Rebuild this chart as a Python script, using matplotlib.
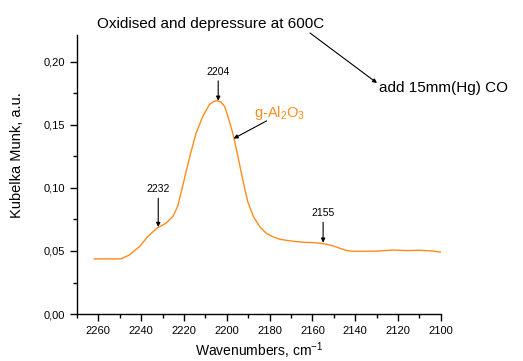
import matplotlib
matplotlib.use("Agg")
import matplotlib.pyplot as plt
import matplotlib.ticker as mt

plt.rcParams['font.family'] = ['Liberation Sans', 'DejaVu Sans']
plt.rcParams['mathtext.default'] = 'regular'

# spectrum
wavenumber = [2262, 2255, 2249.4, 2245.5, 2240.8, 2236.9, 2232.6, 2228.4, 2225.2,
              2222.9, 2220.8, 2217.4, 2214.3, 2211.2, 2208.1, 2206.2, 2204.5, 2202.8,
              2201.0, 2199.5, 2197.2, 2194.8, 2192.5, 2190.2, 2187.5, 2184.5, 2181.6,
              2178.5, 2175.3, 2171.5, 2167.6, 2163.5, 2159.7, 2156.6, 2153.5, 2150.4,
              2147, 2144, 2141, 2135, 2128.5, 2122.3, 2116, 2109.8, 2104, 2099.7]
kubelka = [0.0437, 0.0437, 0.0437, 0.0468, 0.0534, 0.0614, 0.068, 0.072, 0.0772,
           0.0855, 0.100, 0.124, 0.1434, 0.1566, 0.1659, 0.1683, 0.169, 0.168,
           0.1645, 0.1566, 0.1434, 0.125, 0.106, 0.089, 0.077, 0.069, 0.064,
           0.0612, 0.0593, 0.0582, 0.0574, 0.0568, 0.0566, 0.0561, 0.0553, 0.054,
           0.052, 0.0503, 0.0497, 0.0497, 0.050, 0.0507, 0.0503, 0.0505, 0.0500, 0.049]

peaks = [2204, 2232, 2155]
peak_y = [0.1685, 0.0685, 0.0561]
label_y = [0.188, 0.095, 0.076]


def graph():
    fig = plt.figure(figsize=(5.23, 3.61), dpi=100)
    ax = fig.add_axes([0.147, 0.130, 0.696, 0.773])

    ax.plot(wavenumber, kubelka, color='#ff8c1a', lw=1.0,
            solid_joinstyle='round', solid_capstyle='round')

    ax.set_xlim(2270, 2100)
    ax.set_ylim(0, 0.221)
    ax.xaxis.set_major_locator(mt.MultipleLocator(20))
    ax.xaxis.set_minor_locator(mt.MultipleLocator(10))
    ax.yaxis.set_major_locator(mt.MultipleLocator(0.05))
    ax.yaxis.set_minor_locator(mt.MultipleLocator(0.025))
    ax.yaxis.set_major_formatter(mt.FuncFormatter(lambda v, p: ('%.2f' % v).replace('.', ',')))
    ax.tick_params(which='major', direction='out', length=5, width=1, labelsize=8)
    ax.tick_params(which='minor', direction='out', length=3, width=1)
    for s in ['top', 'right']:
        ax.spines[s].set_visible(False)
    for s in ['left', 'bottom']:
        ax.spines[s].set_linewidth(1)

    ax.set_xlabel('Wavenumbers, cm$^{-1}$', fontsize=10, labelpad=3)
    fig.text(0.033, 0.571, 'Kubelka Munk, a.u.', rotation=90, fontsize=10.5,
             ha='center', va='center')

    # peak markers
    for px, py, ly in zip(peaks, peak_y, label_y):
        ax.annotate(str(px), xy=(px, py + 0.0005), xytext=(px, ly),
                    ha='center', va='bottom', fontsize=7.5,
                    arrowprops=dict(arrowstyle='-|>', color='black', lw=0.8,
                                    mutation_scale=6, shrinkA=1, shrinkB=0))

    ax.text(2187.5, 0.1595, 'g-Al$_2$O$_3$', color='#ff8c1a', fontsize=10.5,
            ha='left', va='center')
    ax.annotate('', xy=(2196.8, 0.139), xytext=(2181.4, 0.153),
                arrowprops=dict(arrowstyle='-|>', color='black', lw=0.8,
                                mutation_scale=6, shrinkA=0, shrinkB=0))

    fig.text(0.186, 0.933, 'Oxidised and depressure at 600C', fontsize=11,
             ha='left', va='center')
    fig.text(0.725, 0.756, 'add 15mm(Hg) CO', fontsize=11, ha='left', va='center')
    ax.annotate('', xy=(377, 361 - 83), xycoords='figure pixels',
                xytext=(310, 361 - 33), textcoords='figure pixels',
                arrowprops=dict(arrowstyle='-|>', color='black', lw=0.8,
                                mutation_scale=6, shrinkA=0, shrinkB=0))

    fig.savefig('out.png', dpi=100)


def main():
    graph()


if __name__ == "__main__":
    main()
